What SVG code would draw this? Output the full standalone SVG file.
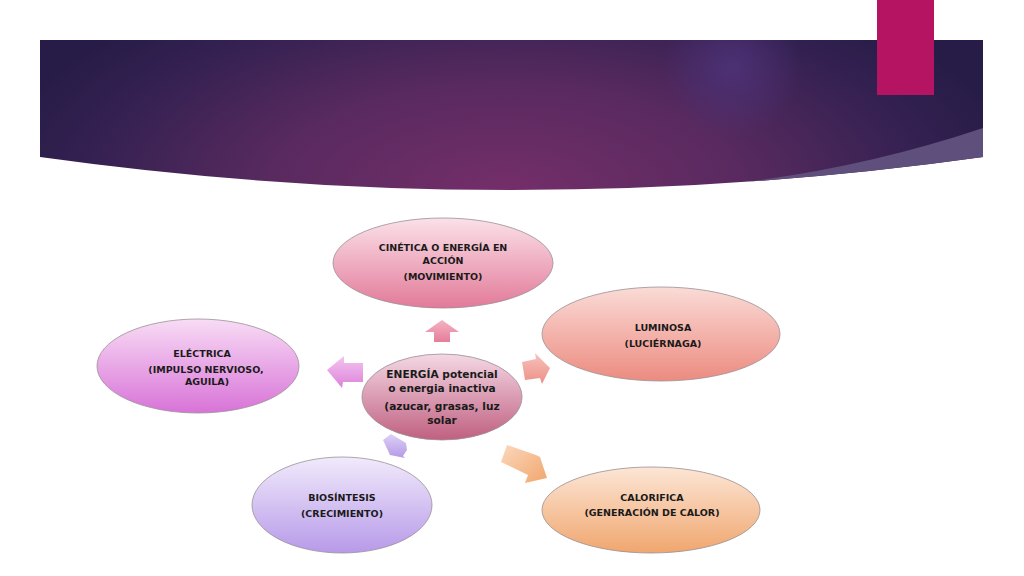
<svg xmlns="http://www.w3.org/2000/svg" width="1024" height="576" viewBox="0 0 1024 576">
<defs>
<radialGradient id="bannerG" gradientUnits="userSpaceOnUse" cx="505" cy="190" r="520" gradientTransform="translate(505 190) scale(1 0.45) translate(-505 -190)">
<stop offset="0" stop-color="#742e6a"/>
<stop offset="0.45" stop-color="#592a5f"/>
<stop offset="0.8" stop-color="#352152"/>
<stop offset="1" stop-color="#271c47"/>
</radialGradient>
<radialGradient id="glowG" gradientUnits="userSpaceOnUse" cx="732" cy="68" r="70">
<stop offset="0" stop-color="#4d3278" stop-opacity="0.9"/>
<stop offset="1" stop-color="#4d3278" stop-opacity="0"/>
</radialGradient>
<linearGradient id="gTop" x1="0" y1="0" x2="0" y2="1"><stop offset="0" stop-color="#fbe1e9"/><stop offset="1" stop-color="#e27a99"/></linearGradient>
<linearGradient id="gCen" x1="0" y1="0" x2="0" y2="1"><stop offset="0" stop-color="#f4d8e3"/><stop offset="1" stop-color="#c06081"/></linearGradient>
<linearGradient id="gLum" x1="0" y1="0" x2="0" y2="1"><stop offset="0" stop-color="#fadbd6"/><stop offset="1" stop-color="#ec8b80"/></linearGradient>
<linearGradient id="gEle" x1="0" y1="0" x2="0" y2="1"><stop offset="0" stop-color="#f8dcf5"/><stop offset="1" stop-color="#d873d8"/></linearGradient>
<linearGradient id="gBio" x1="0" y1="0" x2="0" y2="1"><stop offset="0" stop-color="#f1eafb"/><stop offset="1" stop-color="#b79ae9"/></linearGradient>
<linearGradient id="gCal" x1="0" y1="0" x2="0" y2="1"><stop offset="0" stop-color="#fce6d6"/><stop offset="1" stop-color="#f0a66e"/></linearGradient>
<linearGradient id="aUp" x1="0" y1="0" x2="0" y2="1"><stop offset="0" stop-color="#f4b3c4"/><stop offset="1" stop-color="#e57d9a"/></linearGradient>
<linearGradient id="aLeft" x1="0" y1="0" x2="0" y2="1"><stop offset="0" stop-color="#f3c4f0"/><stop offset="1" stop-color="#dc83d9"/></linearGradient>
<linearGradient id="aRight" x1="0" y1="0" x2="0" y2="1"><stop offset="0" stop-color="#f7c3bd"/><stop offset="1" stop-color="#ec8f86"/></linearGradient>
<linearGradient id="aBio" x1="0" y1="0" x2="0" y2="1"><stop offset="0" stop-color="#ddd0f6"/><stop offset="1" stop-color="#b49ae6"/></linearGradient>
<linearGradient id="aCal" x1="0" y1="0" x2="1" y2="1"><stop offset="0" stop-color="#fbd8bd"/><stop offset="1" stop-color="#f1a66c"/></linearGradient>
</defs>
<style>
.node{stroke:#9a8f95;stroke-width:0.8}
.t{font-family:"DejaVu Sans","Liberation Sans",sans-serif;font-weight:bold;font-size:9.5px;fill:#1a1a1a;text-anchor:middle}
.tc{font-family:"DejaVu Sans","Liberation Sans",sans-serif;font-weight:bold;font-size:10.6px;fill:#1a1a1a;text-anchor:middle}
</style>
<rect width="1024" height="576" fill="#ffffff"/>
<g id="banner">
<path d="M40,40 H983 V157 Q512,223 40,157 Z" fill="url(#bannerG)"/>
<path d="M40,40 H983 V157 Q512,223 40,157 Z" fill="url(#glowG)"/>
<path d="M747.5,181.7 Q865,173.5 983,157 V128 Q870,166 747.5,181.7 Z" fill="#5e4f7c"/>
<rect x="877" y="0" width="57" height="95" fill="#b41461"/>
</g>
<g id="connectors">
<polygon points="442,320 459,332 450,332 450,342 434,342 434,332 425,332" fill="url(#aUp)"/>
<polygon points="327,370 344,356 344,363 363,363 363,382 343,382 342,388" fill="url(#aLeft)"/>
<polygon points="522,362 536,359 535,353 550,368 542,384 540,378 525,380" fill="url(#aRight)"/>
<polygon points="383,440 391,434 406,443 407,450 403,456 405,458 390,455" fill="url(#aBio)"/>
<polygon points="507,445 536,455 540,457 547,478 525,483 528,475 501,462" fill="url(#aCal)"/>
</g>
<g id="node-cinetica">
<ellipse class="node" cx="443" cy="263" rx="110" ry="45" fill="url(#gTop)"/>
<text class="t" x="443" y="251">CINÉTICA O ENERGÍA EN</text>
<text class="t" x="443" y="264">ACCIÓN</text>
<text class="t" x="443" y="280">(MOVIMIENTO)</text>
</g>
<g id="node-luminosa">
<ellipse class="node" cx="661" cy="334" rx="119" ry="47" fill="url(#gLum)"/>
<text class="t" x="663" y="331">LUMINOSA</text>
<text class="t" x="663" y="347">(LUCIÉRNAGA)</text>
</g>
<g id="node-electrica">
<ellipse class="node" cx="198" cy="366" rx="101" ry="47" fill="url(#gEle)"/>
<text class="t" x="202" y="357">ELÉCTRICA</text>
<text class="t" x="206" y="373">(IMPULSO NERVIOSO,</text>
<text class="t" x="207" y="385">AGUILA)</text>
</g>
<g id="node-biosintesis">
<ellipse class="node" cx="342" cy="505" rx="90" ry="48" fill="url(#gBio)"/>
<text class="t" x="342" y="501">BIOSÍNTESIS</text>
<text class="t" x="342" y="517">(CRECIMIENTO)</text>
</g>
<g id="node-calorifica">
<ellipse class="node" cx="651" cy="510" rx="109" ry="43" fill="url(#gCal)"/>
<text class="t" x="652" y="501">CALORIFICA</text>
<text class="t" x="652" y="516">(GENERACIÓN DE CALOR)</text>
</g>
<g id="node-energia">
<ellipse class="node" cx="442" cy="397" rx="80" ry="43" fill="url(#gCen)"/>
<text class="tc" x="442" y="378">ENERGÍA potencial</text>
<text class="tc" x="442" y="392">o energia inactiva</text>
<text class="tc" x="442" y="410">(azucar, grasas, luz</text>
<text class="tc" x="442" y="424">solar</text>
</g>
</svg>
